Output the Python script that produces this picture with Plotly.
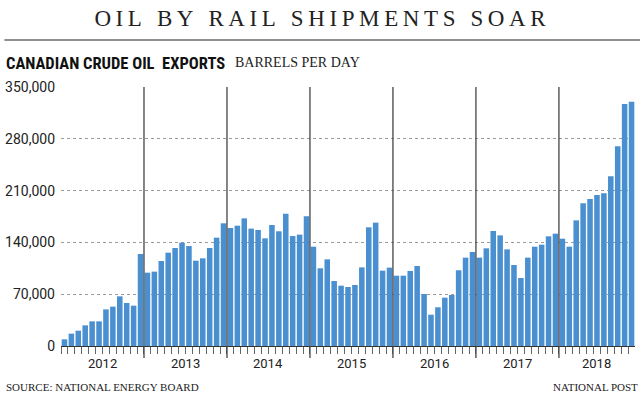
import plotly.graph_objects as go

# ---- data (barrels per day, monthly) ----
years = ["2012", "2013", "2014", "2015", "2016", "2017", "2018"]
v2012 = [9000, 16700, 20700, 27900, 33300, 33300, 49500, 53200, 67100, 58100, 54500, 124300]
v2013 = [99100, 100500, 114900, 126100, 132400, 139600, 135100, 115300, 118500, 132400, 146400, 165800]
v2014 = [159500, 162600, 172500, 158600, 156800, 145500, 163500, 155000, 178800, 148600, 150500, 175200]
v2015 = [134200, 105000, 117100, 87800, 81500, 79700, 82400, 106300, 160400, 166700, 101800, 105900]
v2016 = [95000, 95000, 101400, 108100, 70300, 42300, 52300, 65300, 68900, 102300, 119400, 127000]
v2017 = [119400, 132000, 155400, 149500, 130600, 109500, 91900, 119400, 134200, 136900, 148200, 151800]
v2018 = [145000, 134200, 169800, 192800, 198600, 204100, 206300, 229300, 269800, 327000, 330200]
yearly = [v2012, v2013, v2014, v2015, v2016, v2017, v2018]
y_ticks = [0, 70000, 140000, 210000, 280000, 350000]
y_tick_text = ["0", "70,000", "140,000", "210,000", "280,000", "350,000"]

values = [v for yr in yearly for v in yr]
months = [f"{y}-{m + 1:02d}" for y, yr in zip(years, yearly) for m in range(len(yr))]
x = list(range(len(values)))

# ---- layout geometry (pixels) ----
W, H = 640, 397
L, R, T, B = 57, 5, 87, 51
pw, ph = W - L - R, H - T - B


def px(xp):
    return (xp - L) / pw


def py(yp):
    return (H - B - yp) / ph


fig = go.Figure()
fig.add_trace(go.Bar(
    x=x, y=values, customdata=months,
    marker=dict(color="#4a8fcf", line=dict(width=0)),
    hovertemplate="%{customdata}: %{y:,}<extra></extra>",
))

shapes = []
# year separator lines
start = 0
for yr in yearly[:-1]:
    start += len(yr)
    shapes.append(dict(type="line", xref="x", yref="paper", x0=start - 0.5, x1=start - 0.5,
                       y0=-0.046, y1=1, line=dict(color="#444444", width=1.3)))
# rule under title
shapes.append(dict(type="line", xref="paper", yref="paper", x0=px(0), x1=px(W),
                   y0=py(40), y1=py(40), line=dict(color="#8f8f8f", width=2)))

annotations = []
# year labels
start = 0
for name, yr in zip(years, yearly):
    c = start + (len(yr) - 1) / 2
    annotations.append(dict(x=c, xref="x", y=py(363), yref="paper", text=name, showarrow=False,
                            xanchor="center", yanchor="middle",
                            font=dict(family="Roboto", size=13, color="#222222")))
    start += len(yr)

thin = "\u2009"
title_text = thin.join(list("OIL BY RAIL SHIPMENTS SOAR"))

annotations += [
    dict(x=px(0), y=py(64), xref="paper", yref="paper", showarrow=False, xanchor="left", yanchor="middle",
         text="<b>CANADIAN CRUDE OIL  EXPORTS</b>",
         font=dict(family="Liberation Sans Narrow, Roboto Condensed, Roboto", size=16.5, color="#111111")),
    dict(x=px(230), y=py(63), xref="paper", yref="paper", showarrow=False, xanchor="left", yanchor="middle",
         text="BARRELS PER DAY",
         font=dict(family="Liberation Serif", size=14, color="#222222")),
    dict(x=px(0), y=py(387), xref="paper", yref="paper", showarrow=False, xanchor="left", yanchor="middle",
         text="SOURCE: NATIONAL ENERGY BOARD",
         font=dict(family="Liberation Serif", size=11, color="#222222")),
    dict(x=px(640), y=py(387), xref="paper", yref="paper", showarrow=False, xanchor="right", yanchor="middle",
         text="NATIONAL POST",
         font=dict(family="Liberation Serif", size=11, color="#222222")),
]

fig.update_layout(
    width=W, height=H,
    margin=dict(l=L, r=R, t=T, b=B, pad=0),
    paper_bgcolor="white", plot_bgcolor="white",
    showlegend=False,
    bargap=0.2,
    title=dict(text=title_text, x=0.5, xref="container", xanchor="center",
               y=1 - 18 / H, yref="container", yanchor="middle",
               font=dict(family="Liberation Serif", size=23, color="#222222")),
    shapes=shapes,
    annotations=annotations,
    xaxis=dict(range=[-0.5, len(values) - 0.5], showgrid=False, zeroline=False,
               showline=True, linecolor="#333333", linewidth=1,
               tickmode="array", tickvals=[i + 0.5 for i in range(-1, len(values) - 1)],
               ticktext=[""] * len(values), ticks="outside", ticklen=7, tickcolor="#666666",
               tickwidth=1, fixedrange=True),
    yaxis=dict(range=[0, 350000], tickmode="array", tickvals=y_ticks, ticktext=y_tick_text,
               showgrid=True, gridcolor="#9a9a9a", griddash="dot", gridwidth=1,
               zeroline=False, showline=False, ticks="", ticklabelstandoff=5,
               tickfont=dict(family="Roboto", size=14, color="#222222"), fixedrange=True),
)

fig.write_html("out.html", config={"displayModeBar": False},
               post_script="document.body.style.margin='0';")
